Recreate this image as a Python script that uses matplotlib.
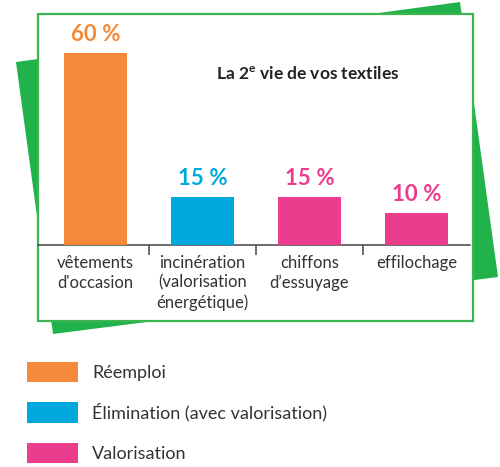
import matplotlib
matplotlib.use("Agg")
import matplotlib.pyplot as plt
from matplotlib.patches import Polygon, Rectangle, Patch

# --- data -------------------------------------------------------------
categories = ["vêtements\nd'occasion", "incinération\n(valorisation\nénergétique)",
              "chiffons\nd\u2019essuyage", "effilochage"]
values = [60, 15, 15, 10]
value_labels = ["60\u202f%", "15\u202f%", "15\u202f%", "10\u202f%"]
groups = ["Réemploi", "Élimination (avec valorisation)", "Valorisation"]
bar_group = [0, 1, 2, 2]
title = r"La 2$^{\mathbf{e}}$ vie de vos textiles"

ORANGE, CYAN, PINK = "#F5893A", "#00A9DD", "#EC3D8C"
GREEN = "#22B24C"
TEXT = "#333333"
group_colors = [ORANGE, CYAN, PINK]
FONT = ["Lato", "DejaVu Sans"]

plt.rcParams["mathtext.fontset"] = "custom"
plt.rcParams["mathtext.bf"] = "Lato:bold"
plt.rcParams["mathtext.rm"] = "Lato"

W, H = 500, 467
fig = plt.figure(figsize=(W / 100, H / 100), dpi=100)

# --- decorative background (pixel coords) -----------------------------
bg = fig.add_axes([0, 0, 1, 1])
bg.set_xlim(0, W)
bg.set_ylim(H, 0)
bg.axis("off")
bg.add_patch(Polygon([(16, 62), (460, 2), (498, 277), (53, 334)],
                     closed=True, facecolor=GREEN, edgecolor="none"))
bg.add_patch(Rectangle((38, 14), 435, 307, facecolor="white",
                       edgecolor="#3DB54F", lw=1.6))

# --- bar chart --------------------------------------------------------
x0, x1 = 38, 473          # panel left/right in px
base, top = 245, 14       # baseline / panel top in px
ax = fig.add_axes([x0 / W, (H - base) / H, (x1 - x0) / W, (base - top) / H])
ax.set_facecolor("none")

xs = list(range(len(categories)))
colors = [group_colors[g] for g in bar_group]
bars = ax.bar(xs, values, width=0.59, color=colors, zorder=3)
ax.set_xlim((x0 - 95.5) / 107, (x1 - 95.5) / 107)
ax.set_ylim(0, 60 * (base - top) / (base - 53))

texts = ax.bar_label(bars, labels=value_labels, padding=5.5,
                     fontsize=16, fontweight="bold", family=FONT)
for t, c in zip(texts, colors):
    t.set_color(c)

for side in ("left", "right", "top"):
    ax.spines[side].set_visible(False)
ax.spines["bottom"].set_color("#444444")
ax.spines["bottom"].set_linewidth(1.1)
ax.spines["bottom"].set_bounds(ax.get_xlim()[0], 3.5)
ax.set_yticks([])

# separators as major ticks, category names as minor tick labels
ax.set_xticks([0.5, 1.5, 2.5])
ax.set_xticklabels([])
ax.tick_params(axis="x", which="major", direction="out", length=7.5,
               width=1.1, color="#444444")
ax.set_xticks(xs, minor=True)
ax.set_xticklabels(categories, minor=True, fontsize=12, color=TEXT, family=FONT)
ax.tick_params(axis="x", which="minor", length=0, pad=7)
for lab in ax.get_xticklabels(minor=True):
    lab.set_linespacing(1.3)

ax.text(0.62, 0.74, title, transform=ax.transAxes, ha="center", va="center",
        fontsize=12.5, fontweight="bold", color="#222222", family=FONT)

# --- legend -----------------------------------------------------------
handles = [Patch(facecolor=c, edgecolor="none") for c in group_colors]
fs = 13
leg = fig.legend(handles, groups, loc="upper left",
                 bbox_to_anchor=(27 / W, 1 - 362 / H), frameon=False,
                 handlelength=2.85, handleheight=1.35,
                 handletextpad=0.75, labelspacing=1.12, borderpad=0,
                 borderaxespad=0, prop={"family": FONT, "size": fs})
for t in leg.get_texts():
    t.set_color(TEXT)

fig.savefig("out.png", dpi=100)
